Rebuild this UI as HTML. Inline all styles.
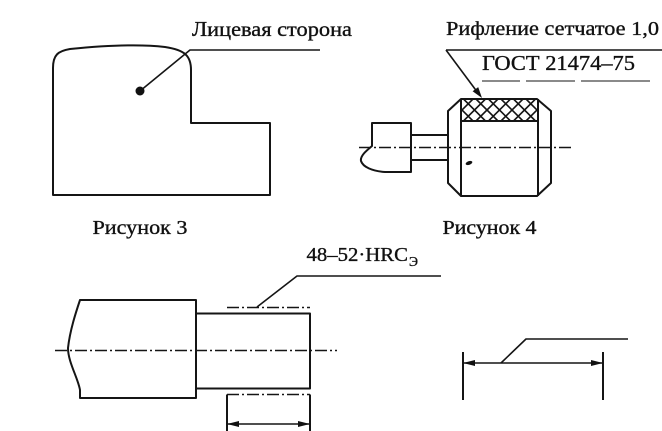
<!DOCTYPE html>
<html><head><meta charset="utf-8"><style>
html,body{margin:0;padding:0;background:#fff;}
svg{display:block;}
text{font-family:"Liberation Serif","Noto Serif CJK SC",serif;fill:#111;stroke:#111;stroke-width:0.35;}
</style></head><body>
<svg width="662" height="431" viewBox="0 0 662 431" xmlns="http://www.w3.org/2000/svg">
<defs>
<clipPath id="kc"><rect x="461" y="99" width="77" height="22"/></clipPath>
</defs>
<g fill="none" stroke="#151515" stroke-width="2" stroke-linejoin="round">
<!-- Fig 3 -->
<path d="M53,195 L53,68 C53,55 58,51 70,49 C110,45 140,44 165,47 C185,50 191,56 191,70 L191,123 L270,123 L270,195 Z"/>
<path d="M140,91 L190,50 L320,50" stroke-width="1.6"/>
<!-- Fig 4 -->
<path d="M446,50 L662,50" stroke-width="1.6"/>
<path d="M446,50 L478,93" stroke-width="1.6"/>
<path d="M482,81 L520,81 M526,81 L575,81 M581,81 L650,81" stroke-width="1.2" stroke="#444"/>
<path d="M448,111 L461,99 L537,99 L551,111 L551,183 L537,196 L461,196 L448,183 Z"/>
<path d="M461,99 L461,196 M538,99 L538,196 M461,121 L538,121"/>
<g clip-path="url(#kc)" stroke-width="1.6">
<path d="M426,99 L448,121 M438.5,99 L460.5,121 M451,99 L473,121 M463.5,99 L485.5,121 M476,99 L498,121 M488.5,99 L510.5,121 M501,99 L523,121 M513.5,99 L535.5,121 M526,99 L548,121 M538.5,99 L560.5,121"/>
<path d="M426,121 L448,99 M438.5,121 L460.5,99 M451,121 L473,99 M463.5,121 L485.5,99 M476,121 L498,99 M488.5,121 L510.5,99 M501,121 L523,99 M513.5,121 L535.5,99 M526,121 L548,99 M538.5,121 L560.5,99"/>
</g>
<path d="M448,135 L411,135 L411,160 L448,160"/>
<path d="M411,123 L372,123 L372,146 C366,151 360,156 361,161 C363,167 372,171 385,172 L411,172 Z"/>
<path d="M359,147.5 L574,147.5" stroke-width="1.5" stroke-dasharray="12 3 2 3"/>
<!-- Fig 5 -->
<path d="M196,300 L80,300 C76,312 70,330 68,348 C68,362 78,378 80,390 L80,398 L196,398 Z"/>
<path d="M196,313.5 L310,313.5 L310,388.5 L196,388.5"/>
<path d="M55,350.5 L337,350.5" stroke-width="1.5" stroke-dasharray="12 3 2 3"/>
<path d="M227,307.5 L310,307.5" stroke-width="1.5" stroke-dasharray="12 3 2 3"/>
<path d="M227,394.5 L310,394.5" stroke-width="1.5" stroke-dasharray="12 3 2 3"/>
<path d="M227,394.5 L227,431 M310,394.5 L310,431"/>
<path d="M227,424 L310,424" stroke-width="1.6"/>
<path d="M257,307 L297,276 L441,276" stroke-width="1.6"/>
<!-- Fig 6 -->
<path d="M463,352 L463,400 M603,352 L603,400"/>
<path d="M463,363 L603,363" stroke-width="1.6"/>
<path d="M501,363 L526,339 L628,339" stroke-width="1.6"/>
</g>
<g fill="#111" stroke="none">
<circle cx="140" cy="91" r="4.5"/>
<polygon points="482,98 472.6,91.3 478.2,87.1"/>
<ellipse cx="469" cy="163" rx="3.5" ry="1.8" transform="rotate(-20 469 163)"/>
<polygon points="227,424 239,421 239,427"/>
<polygon points="310,424 298,421 298,427"/>
<polygon points="463,363 475,360 475,366"/>
<polygon points="603,363 591,360 591,366"/>
</g>
<text x="192" y="36" font-size="21" textLength="160" lengthAdjust="spacingAndGlyphs">Лицевая сторона</text>
<text x="446" y="35" font-size="20" textLength="213" lengthAdjust="spacingAndGlyphs">Рифление сетчатое 1,0</text>
<text x="482" y="70" font-size="21" textLength="153" lengthAdjust="spacingAndGlyphs">ГОСТ 21474–75</text>
<text x="92.5" y="234" font-size="20" textLength="95" lengthAdjust="spacingAndGlyphs">Рисунок 3</text>
<text x="442.5" y="234" font-size="20" textLength="94" lengthAdjust="spacingAndGlyphs">Рисунок 4</text>
<text x="306.5" y="261" font-size="20" textLength="101.5" lengthAdjust="spacingAndGlyphs">48–52·HRC</text>
<text x="409" y="266" font-size="14" textLength="9" lengthAdjust="spacingAndGlyphs">Э</text>
</svg>
</body></html>
